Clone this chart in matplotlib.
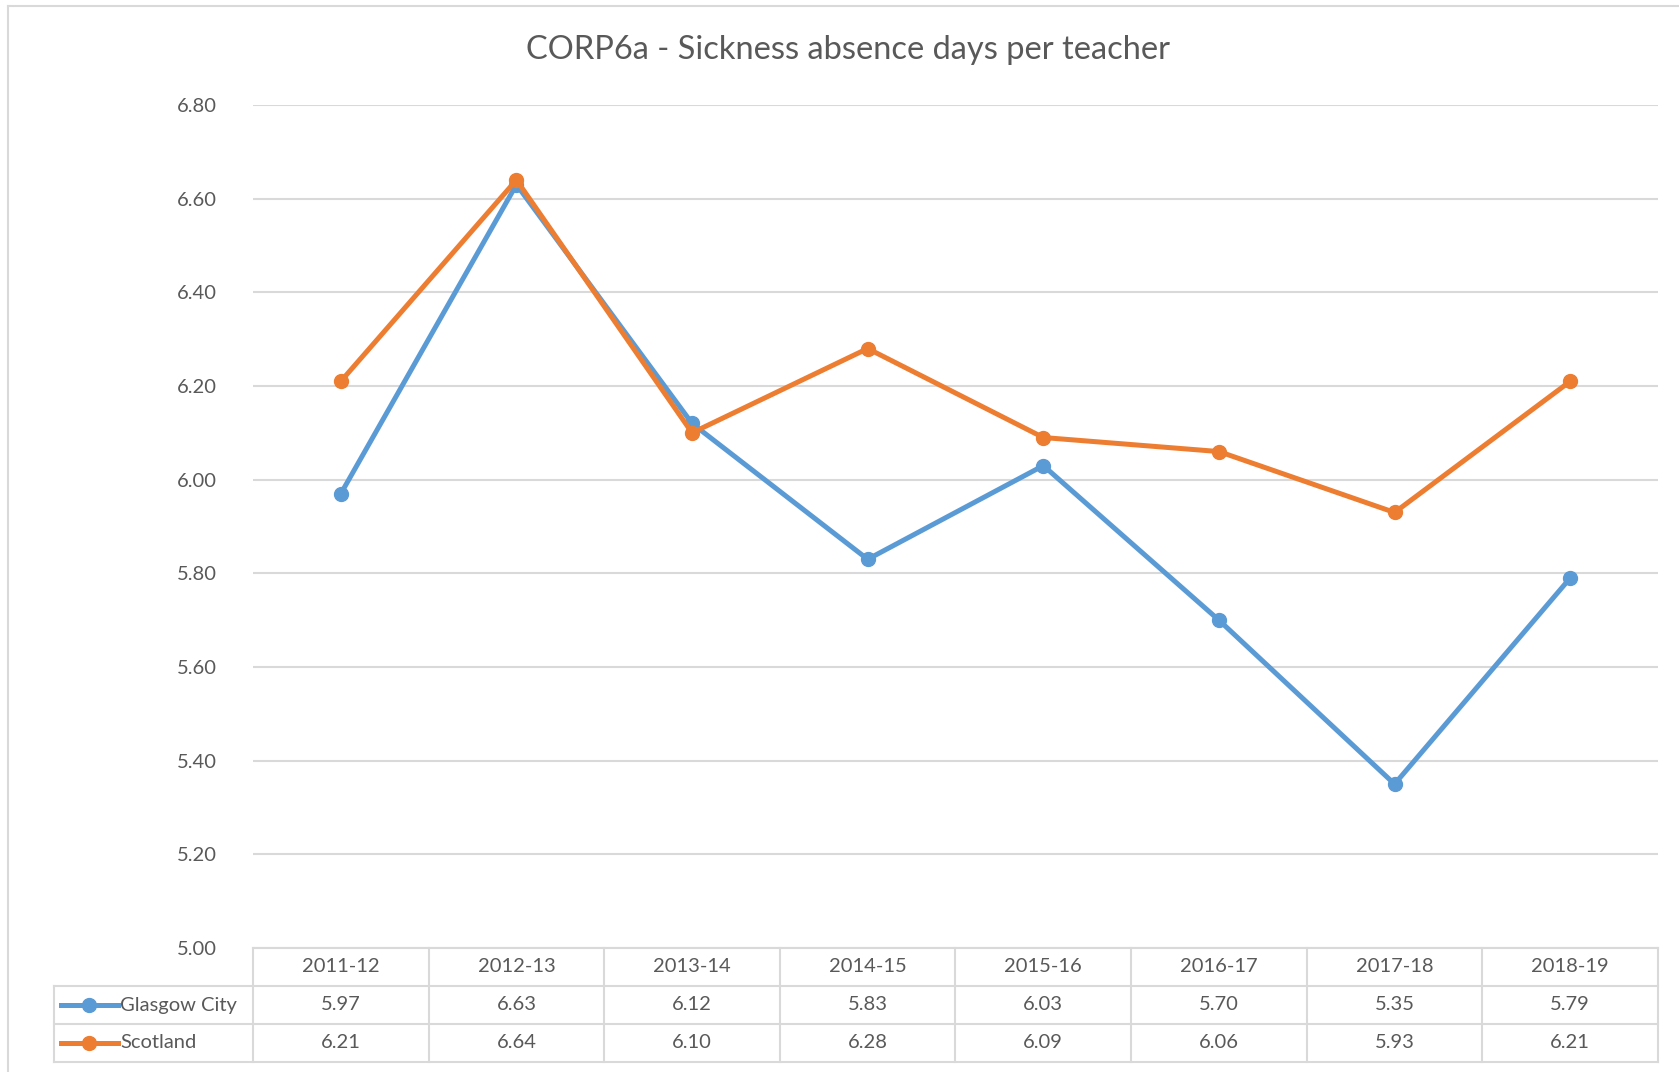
import matplotlib.pyplot as plt
from matplotlib.lines import Line2D
from matplotlib.transforms import blended_transform_factory

years = ['2011-12', '2012-13', '2013-14', '2014-15', '2015-16', '2016-17', '2017-18', '2018-19']
glasgow = [5.97, 6.63, 6.12, 5.83, 6.03, 5.70, 5.35, 5.79]
scotland = [6.21, 6.64, 6.10, 6.28, 6.09, 6.06, 5.93, 6.21]
series_names = ['Glasgow City', 'Scotland']
yticks = [5.00, 5.20, 5.40, 5.60, 5.80, 6.00, 6.20, 6.40, 6.60, 6.80]

blue = '#5B9BD5'
orange = '#ED7D31'
grid_col = '#D9D9D9'
text_col = '#595959'

plt.rcParams['font.family'] = ['Lato', 'DejaVu Sans']

W, H = 1679, 1072
fig = plt.figure(figsize=(W / 100, H / 100), dpi=100)

# plot area in pixels
left, right, top, bottom = 253, 1658, 105, 948
ax = fig.add_axes([left / W, 1 - bottom / H, (right - left) / W, (bottom - top) / H])

x = list(range(len(years)))
for vals, col in [(glasgow, blue), (scotland, orange)]:
    ax.plot(x, vals, color=col, lw=3.6, marker='o', ms=10, zorder=3,
            solid_joinstyle='round')

ax.set_xlim(-0.5, len(years) - 0.5)
ax.set_ylim(5.0, 6.8)
ax.set_yticks(yticks)
ax.set_yticklabels(['%.2f' % v for v in yticks])
ax.tick_params(axis='y', length=0, pad=26, labelsize=14.5, labelcolor=text_col)
ax.set_xticks([])
for s in ax.spines.values():
    s.set_visible(False)
ax.yaxis.grid(True, color=grid_col, lw=1.5)
ax.set_axisbelow(True)

fig.text(848 / W, 1 - 50 / H, 'CORP6a - Sickness absence days per teacher',
         ha='center', va='center', fontsize=23.5, color=text_col)

# data table under the plot
row_edges = [948, 986, 1024, 1062]
tab_left = 54
kw = dict(color=grid_col, lw=1.5, transform=fig.transFigure, clip_on=False)
fig.add_artist(Line2D([left / W, right / W], [1 - row_edges[0] / H] * 2, **kw))
for r in row_edges[1:]:
    fig.add_artist(Line2D([tab_left / W, right / W], [1 - r / H] * 2, **kw))
fig.add_artist(Line2D([tab_left / W] * 2, [1 - row_edges[1] / H, 1 - row_edges[3] / H], **kw))
colw = (right - left) / len(years)
for i in range(len(years) + 1):
    xp = left + i * colw
    fig.add_artist(Line2D([xp / W] * 2, [1 - row_edges[0] / H, 1 - row_edges[3] / H], **kw))

trans = blended_transform_factory(ax.transData, fig.transFigure)
for i, yr in enumerate(years):
    ymid = 1 - (row_edges[0] + row_edges[1]) / 2 / H
    fig.text(i, ymid, yr, transform=trans, ha='center', va='center',
             fontsize=14.5, color=text_col)
for r, (name, vals, col) in enumerate([(series_names[0], glasgow, blue),
                                       (series_names[1], scotland, orange)]):
    ymid = 1 - (row_edges[r + 1] + row_edges[r + 2]) / 2 / H
    for i, v in enumerate(vals):
        fig.text(i, ymid, '%.2f' % v, transform=trans, ha='center', va='center',
                 fontsize=14.5, color=text_col)
    fig.add_artist(Line2D([61 / W, 118 / W], [ymid, ymid], color=col, lw=3.6,
                          transform=fig.transFigure))
    fig.add_artist(Line2D([89 / W], [ymid], color=col, marker='o', ms=10,
                          transform=fig.transFigure))
    fig.text(120 / W, ymid, name, ha='left', va='center', fontsize=14.5, color=text_col)

# chart frame (left and top edges visible)
fig.add_artist(Line2D([8 / W, 8 / W], [0, 1 - 6 / H], **kw))
fig.add_artist(Line2D([8 / W, 1], [1 - 6 / H, 1 - 6 / H], **kw))

fig.savefig('out.png', dpi=100)
